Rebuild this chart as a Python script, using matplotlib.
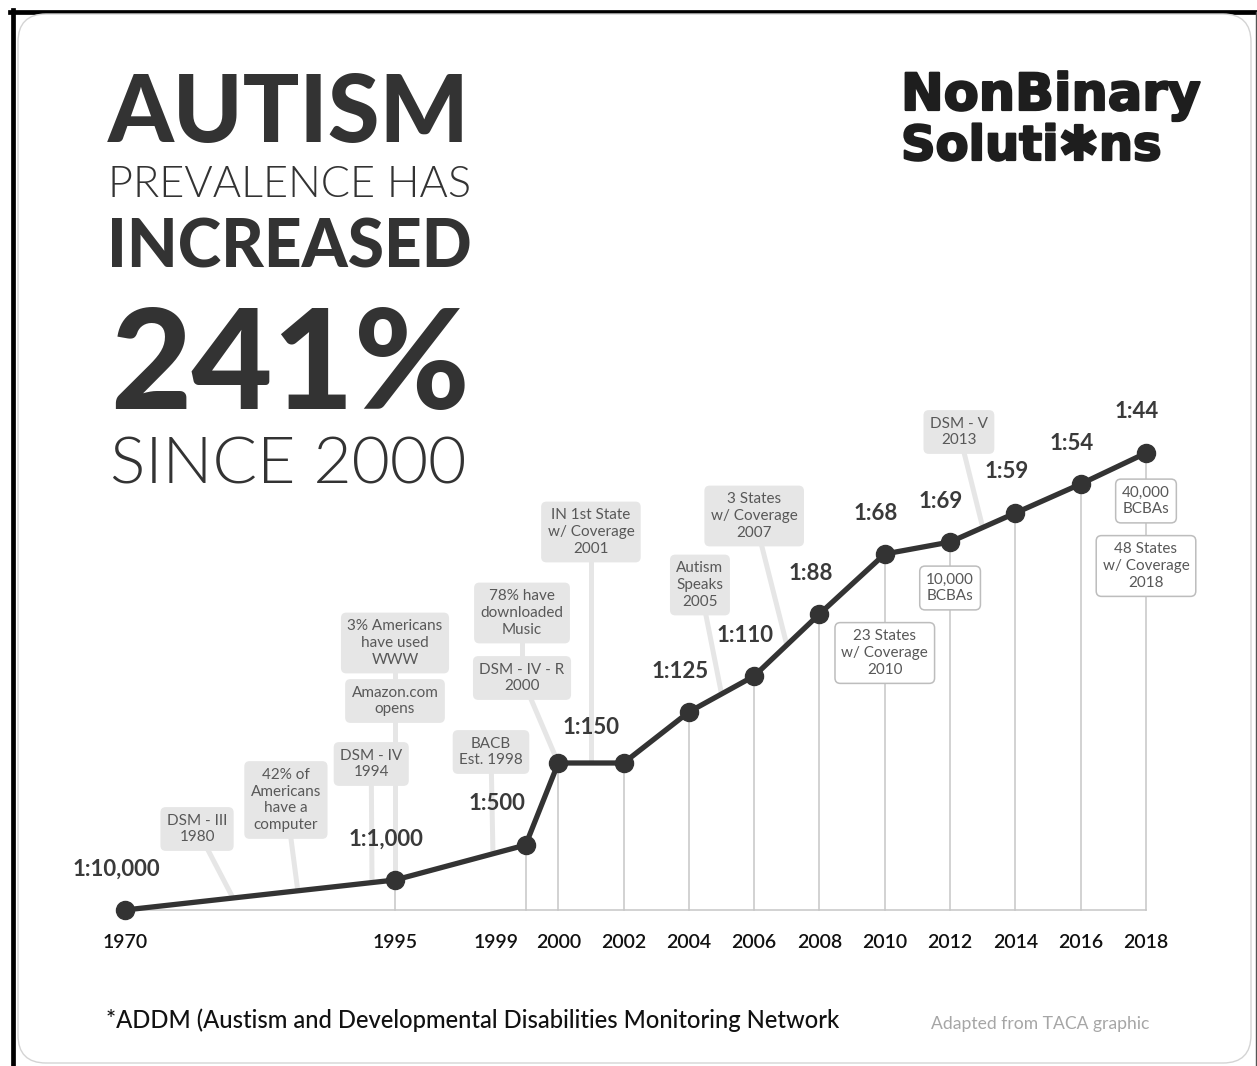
import numpy as np
import matplotlib
matplotlib.use("Agg")
import matplotlib.pyplot as plt
from matplotlib.patches import FancyBboxPatch
from matplotlib.transforms import Affine2D, ScaledTranslation
from matplotlib.lines import Line2D
import matplotlib.patheffects as pe

plt.rcParams['font.family'] = ['Lato', 'DejaVu Sans']

W, H = 1257, 1066

# ---------------- data ----------------
years = [1970, 1995, 1999, 2000, 2002, 2004, 2006, 2008, 2010, 2012, 2014, 2016, 2018]
heights = [0, 30, 65, 147, 147, 198, 234, 296, 356, 368, 397, 426, 457]   # drawn height of the curve
ratios = ["1:10,000", "1:1,000", "1:500", "1:150", "1:150", "1:125", "1:110",
          "1:88", "1:68", "1:69", "1:59", "1:54", "1:44"]
tick_labels = [str(y) for y in years]

# gray event notes: text, box year, box height, year on the curve it points to
event_texts = ["DSM - III\n1980", "42% of\nAmericans\nhave a\ncomputer", "DSM - IV\n1994",
               "BACB\nEst. 1998", "DSM - IV - R\n2000", "IN 1st State\nw/ Coverage\n2001",
               "Autism\nSpeaks\n2005", "3 States\nw/ Coverage\n2007", "DSM - V\n2013"]
event_box_x = [1976.67, 1984.9, 1992.8, 1997.94, 1998.89, 2001.0, 2004.34, 2006.0, 2012.27]
event_box_y = [81, 110, 146, 158, 232, 378, 325, 394, 478]
event_target = [1980, 1986.0, 1992.87, 1998, 2000, 2001, 2005, 2007, 2013]

# stacked gray notes (linked to another note / point)
stack_texts = ["Amazon.com\nopens", "3% Americans\nhave used\nWWW", "78% have\ndownloaded\nMusic"]
stack_x = [1995, 1995, 1998.89]
stack_y = [209, 267, 297]
stack_link_to = [30, 30, 232]

# white milestone notes on the year lines
mile_texts = ["10,000\nBCBAs", "23 States\nw/ Coverage\n2010", "40,000\nBCBAs", "48 States\nw/ Coverage\n2018"]
mile_x = [2012, 2010, 2018, 2018]
mile_y = [322, 257, 409, 344]

# ---------------- figure ----------------
fig = plt.figure(figsize=(W / 100, H / 100), dpi=100)
fig.patch.set_facecolor('white')
PX = Affine2D().scale(1 / W, -1 / H).translate(0, 1) + fig.transFigure

# frame
fig.add_artist(Line2D([10, 1257], [12, 12], transform=PX, color='black', lw=3.4, zorder=-5))
fig.add_artist(Line2D([13, 13], [10, 1066], transform=PX, color='black', lw=3.4, zorder=-5))
fig.add_artist(Line2D([1255.5, 1255.5], [12, 1066], transform=PX, color='#555555', lw=1.0,
                      zorder=-5))
card = FancyBboxPatch((18, 14), 1233, 1049, boxstyle='round,pad=0,rounding_size=28',
                      transform=PX, fc='white', ec='#d4d4d4', lw=1.0, zorder=-4)
fig.add_artist(card)

renderer = fig.canvas.get_renderer()


def fit_text(text, x0, x1, ybase, weight, color, family=None, size0=50):
    kw = dict(ha='left', va='baseline', fontsize=size0, fontweight=weight, color=color,
              transform=PX)
    if family is not None:
        kw['family'] = family
    t = fig.text(x0, ybase, text, **kw)
    bb = t.get_window_extent(renderer)
    t.set_fontsize(size0 * (x1 - x0) / bb.width)
    bb = t.get_window_extent(renderer)
    t.set_x(x0 - (bb.x0 - x0))
    return t


title_col = '#333333'
fit_text("AUTISM", 108, 470, 142, 900, title_col)
fit_text("PREVALENCE HAS", 108, 471, 197, 300, title_col)
fit_text("INCREASED", 107, 472, 267, 900, title_col)
fit_text("241%", 110, 470, 409, 900, title_col)
fit_text("SINCE 2000", 110, 467, 483, 300, title_col)

# logo
logo_col = '#1e1e1e'
logo_fam = ['DejaVu Sans']
heavy = [pe.withStroke(linewidth=1.6, foreground=logo_col)]
fit_text("NonBinary", 901, 1201, 110, 'bold', logo_col, family=logo_fam).set_path_effects(heavy)
fit_text("Soluti\u2731ns", 901, 1162, 160, 'bold', logo_col,
         family=logo_fam).set_path_effects(heavy)

fit_text("*ADDM (Austism and Developmental Disabilities Monitoring Network", 106, 840, 1028,
         500, '#111111')
fit_text("Adapted from TACA graphic", 931, 1148, 1029, 400, '#a6a6a6')

# ---------------- chart ----------------
def fwd(x):
    x = np.asarray(x, float)
    return np.where(x < 1995, (x - 1995) * 270 / 25, (x - 1995) * 751 / 23)


def inv(u):
    u = np.asarray(u, float)
    return np.where(u < 0, 1995 + u * 25 / 270, 1995 + u * 23 / 751)


ax = fig.add_axes([125 / W, (H - 910) / H, 1021 / W, 510 / H])
ax.set_xscale('function', functions=(fwd, inv))
ax.set_xlim(1970, 2018)
ax.set_ylim(0, 510)
ax.patch.set_alpha(0)
for s in ax.spines.values():
    s.set_visible(False)
ax.set_yticks([])
ax.set_xticks(years, labels=tick_labels)
ax.tick_params(axis='x', length=0, pad=17, labelsize=14, labelcolor='#111111')
for lab, y in zip(ax.get_xticklabels(), years):
    lab.set_fontweight(600)
    if y == 1999:
        lab.set_transform(lab.get_transform() + ScaledTranslation(-0.30, 0, fig.dpi_scale_trans))

grid_col = '#c6c6c6'
ax.plot([years[0], years[-1]], [0, 0], color=grid_col, lw=1.1, zorder=1, clip_on=False)
for y, h in zip(years[1:], heights[1:]):
    ax.plot([y, y], [0, h], color=grid_col, lw=1.1, zorder=1, clip_on=False)

link_col = '#e6e6e6'
box_kw = dict(ha='center', va='center', fontsize=11, color='#585858', linespacing=1.27,
              zorder=4)
gray_box = dict(boxstyle='round,pad=0.42,rounding_size=0.35', fc='#e6e6e6', ec='none')
for t, bx, by, tg in zip(event_texts, event_box_x, event_box_y, event_target):
    ty = np.interp(tg, years, heights)
    ax.plot([bx, tg], [by, ty], color=link_col, lw=3.6, zorder=2, clip_on=False,
            solid_capstyle='butt')
    ax.text(bx, by, t, bbox=gray_box, **box_kw)
for t, bx, by, ly in zip(stack_texts, stack_x, stack_y, stack_link_to):
    ax.plot([bx, bx], [by, ly], color=link_col, lw=3.6, zorder=2, clip_on=False,
            solid_capstyle='butt')
    ax.text(bx, by, t, bbox=gray_box, **box_kw)
for t, bx, by in zip(mile_texts, mile_x, mile_y):
    ax.text(bx, by, t, bbox=dict(boxstyle='round,pad=0.42,rounding_size=0.35', fc='white',
                                 ec='#bdbdbd', lw=1.1), **box_kw)

line_col = '#333333'
ax.plot(years, heights, color=line_col, lw=3.8, zorder=5, clip_on=False,
        solid_joinstyle='round')
ax.plot(years, heights, 'o', ms=13, color=line_col, zorder=6, clip_on=False)

# ratio labels
lab_kw = dict(ha='center', va='center', fontsize=16, fontweight=700, color='#3a3a3a',
              textcoords='offset pixels', zorder=7)
for i, (y, h, r) in enumerate(zip(years, heights, ratios)):
    if i == 4:
        continue
    if i == 3:
        mid = float(inv((fwd(years[3]) + fwd(years[4])) / 2))
        ax.annotate(r, (mid, h), xytext=(0, 35), **lab_kw)
        continue
    dx = -29 if i == 2 else -9
    ax.annotate(r, (y, h), xytext=(dx, 41), **lab_kw)

fig.savefig('out.png', dpi=100, facecolor='white')
